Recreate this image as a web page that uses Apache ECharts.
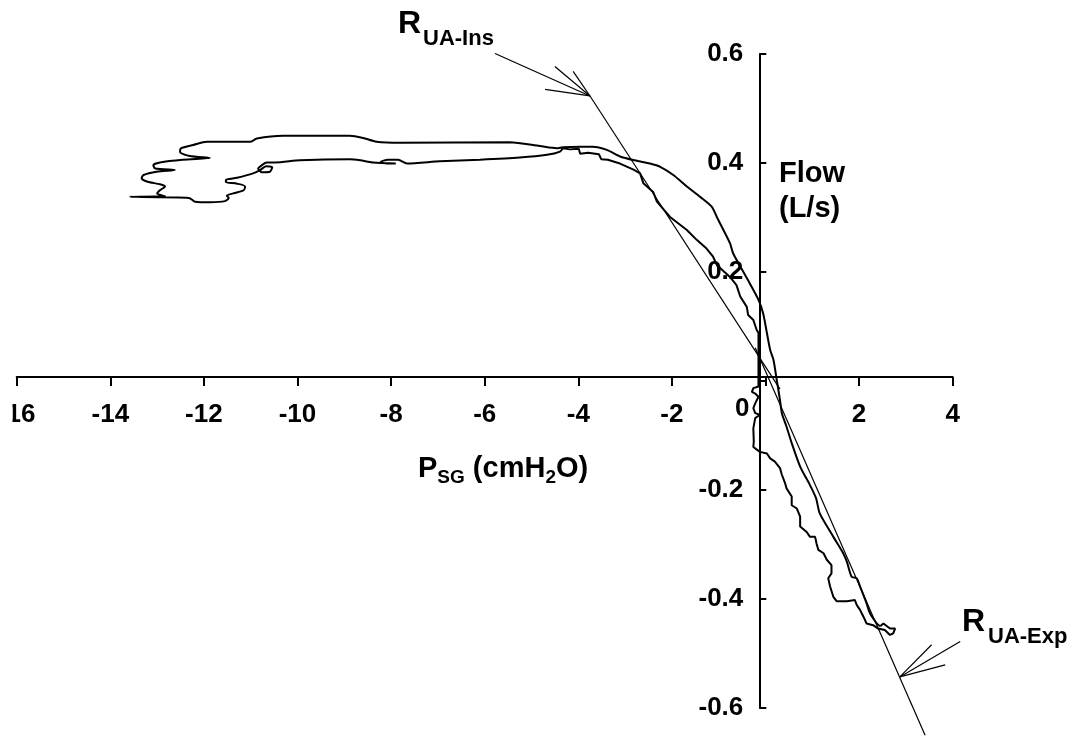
<!DOCTYPE html>
<html>
<head>
<meta charset="utf-8">
<script src="https://cdn.jsdelivr.net/npm/echarts@6/dist/echarts.min.js"></script>
<style>
  html, body { margin: 0; padding: 0; background: #fff; }
  #chart { width: 1075px; height: 736px; }
</style>
</head>
<body>
<div id="chart"></div>
<script>
// pressure (cmH2O) vs flow (L/s), one loop
// inspiratory return limb (jagged), from origin up to the plateau junction
let inspReturn = [
  [-0.15, 0.008], [-0.15, 0.048], [-0.15, 0.088], [-0.19, 0.094], [-0.26, 0.112], [-0.37, 0.121],
  [-0.40, 0.136], [-0.54, 0.155], [-0.62, 0.176], [-0.76, 0.191], [-1.04, 0.213], [-1.12, 0.228],
  [-1.26, 0.243], [-1.47, 0.259], [-1.68, 0.277], [-2.04, 0.301], [-2.32, 0.329], [-2.40, 0.347],
  [-2.61, 0.363], [-2.68, 0.381], [-2.82, 0.388], [-3.11, 0.399], [-3.37, 0.406], [-3.51, 0.407],
  [-3.56, 0.416], [-3.79, 0.419], [-3.96, 0.417], [-3.99, 0.426], [-4.18, 0.425], [-4.33, 0.427]
];
// lower plateau going left
let plateauLow = [
  [-4.39, 0.421], [-4.67, 0.415], [-5.25, 0.410], [-6.10, 0.406], [-6.96, 0.403], [-7.66, 0.399],
  [-7.85, 0.406], [-8.07, 0.406], [-8.22, 0.402], [-8.11, 0.399], [-7.90, 0.399], [-8.39, 0.401],
  [-8.66, 0.405], [-8.88, 0.407], [-9.95, 0.405], [-10.48, 0.401], [-10.66, 0.401]
];
// oscillations at the most negative pressures
let wiggles = [
  [-10.76, 0.396], [-10.84, 0.390], [-10.76, 0.383], [-10.59, 0.384], [-10.54, 0.392], [-10.67, 0.394],
  [-10.80, 0.387], [-10.95, 0.381], [-11.29, 0.373], [-11.53, 0.369], [-11.53, 0.365], [-11.29, 0.362],
  [-11.12, 0.357], [-11.15, 0.350], [-11.34, 0.345], [-11.51, 0.340], [-11.47, 0.336], [-11.55, 0.330],
  [-11.87, 0.328], [-12.19, 0.329], [-12.32, 0.336], [-13.58, 0.338], [-12.83, 0.339], [-13.00, 0.344],
  [-12.94, 0.350], [-12.83, 0.357], [-12.94, 0.361], [-13.22, 0.366], [-13.33, 0.372], [-13.29, 0.378],
  [-13.01, 0.384], [-12.62, 0.387], [-13.04, 0.390], [-13.08, 0.396], [-12.94, 0.401], [-12.45, 0.406],
  [-11.87, 0.409], [-12.30, 0.413], [-12.51, 0.420], [-12.49, 0.427], [-12.23, 0.433]
];
// upper plateau going right
let plateauHigh = [
  [-11.94, 0.439], [-11.44, 0.439], [-11.01, 0.439], [-10.87, 0.445], [-10.31, 0.450], [-8.88, 0.450],
  [-8.60, 0.446], [-8.31, 0.439], [-7.81, 0.437], [-5.46, 0.438], [-4.82, 0.431], [-4.46, 0.427],
  [-4.33, 0.429], [-3.96, 0.430], [-3.69, 0.430]
];
// smooth limb from the plateau down through zero to the expiratory peak
let outerLimb = [
  [-3.39, 0.424], [-3.11, 0.412], [-2.75, 0.404], [-2.47, 0.399], [-2.25, 0.393], [-1.97, 0.378],
  [-1.68, 0.357], [-1.40, 0.338], [-1.15, 0.320], [-1.04, 0.301], [-0.97, 0.289], [-0.76, 0.253],
  [-0.69, 0.234], [-0.40, 0.189], [-0.15, 0.149], [-0.05, 0.124], [0.03, 0.088], [0.10, 0.057],
  [0.17, 0.039], [0.24, 0.002], [0.31, -0.035], [0.35, -0.059], [0.45, -0.084], [0.56, -0.114],
  [0.74, -0.157], [0.95, -0.191], [1.08, -0.215], [1.16, -0.243], [1.45, -0.286], [1.66, -0.316],
  [1.74, -0.332], [1.84, -0.359], [1.95, -0.362], [2.02, -0.377], [2.16, -0.408], [2.23, -0.426],
  [2.38, -0.445], [2.45, -0.450]
];
let expTip = [
  [2.52, -0.445], [2.66, -0.454], [2.77, -0.454], [2.73, -0.463], [2.66, -0.466], [2.55, -0.457], [2.40, -0.454]
];
// jagged expiratory limb back to the origin
let expJagged = [
  [2.30, -0.448], [2.16, -0.445], [2.09, -0.432], [2.02, -0.420], [1.95, -0.411], [1.91, -0.402],
  [1.74, -0.404], [1.52, -0.404], [1.45, -0.396], [1.38, -0.377], [1.34, -0.362], [1.41, -0.353],
  [1.41, -0.338], [1.31, -0.328], [1.24, -0.316], [1.13, -0.310], [1.09, -0.298], [1.06, -0.286],
  [0.95, -0.286], [0.88, -0.277], [0.74, -0.267], [0.74, -0.249], [0.67, -0.234], [0.56, -0.228],
  [0.56, -0.212], [0.45, -0.197], [0.42, -0.188], [0.35, -0.172], [0.31, -0.160], [0.20, -0.148],
  [0.10, -0.142], [0.03, -0.133], [-0.12, -0.130], [-0.26, -0.121], [-0.25, -0.111], [-0.26, -0.087],
  [-0.22, -0.068], [-0.12, -0.062], [-0.22, -0.059], [-0.26, -0.050], [-0.22, -0.041], [-0.15, -0.029],
  [-0.22, -0.023], [-0.29, -0.020], [-0.26, -0.013], [-0.15, -0.010], [-0.15, 0.008]
];

// resistance fits
let insLine = [[-3.75, 0.523], [0.31, -0.015]];
let expLine = [[-0.22, 0.061], [3.41, -0.65]];

// arrow strokes pointing at the fit lines
let insArrow = [
  [[-5.78, 0.601], [-3.75, 0.523]], [[-4.50, 0.577], [-3.75, 0.523]],
  [[-4.11, 0.568], [-3.75, 0.523]], [[-4.71, 0.535], [-3.75, 0.523]]
];
let expArrow = [
  [[4.16, -0.478], [2.87, -0.543]], [[3.55, -0.484], [2.87, -0.543]], [[3.84, -0.521], [2.87, -0.543]]
];

let xMin = -16, xMax = 4, xStep = 2;
let yMin = -0.6, yMax = 0.6, yStep = 0.2;

// jagged parts drawn straight, the plateau/smooth limb lightly smoothed
let partJagged1 = inspReturn;
let partSmooth = [inspReturn[inspReturn.length - 1]].concat(plateauLow, wiggles, plateauHigh, outerLimb);
let partJagged2 = [outerLimb[outerLimb.length - 1]].concat(expTip, expJagged);

const FONT = '"Liberation Sans", Arial, sans-serif';
const txt = (x, y, text, size) => ({
  type: 'text', x: x, y: y,
  style: { text: text, font: 'bold ' + size + 'px ' + FONT, fill: '#000', textVerticalAlign: 'middle' }
});
const curve = (data, smooth) => ({
  type: 'line', data: data, showSymbol: false, clip: false, smooth: smooth,
  lineStyle: { color: '#000', width: 2 }
});
const fit = data => ({
  type: 'line', data: data, showSymbol: false, clip: false, lineStyle: { color: '#000', width: 1.2 }
});

let dom = echarts.init(document.getElementById('chart'));
dom.setOption({
  animation: false,
  grid: { left: 16.7, right: 122.3, top: 54, bottom: 28, outerBoundsMode: 'none', containLabel: false },
  // axes cross slightly off zero, as in the original
  xAxis: {
    type: 'value', min: xMin, max: xMax, interval: xStep,
    position: 'bottom', offset: -331,
    axisLine: { onZero: false, lineStyle: { color: '#000', width: 2 } },
    axisTick: { length: 9, lineStyle: { color: '#000', width: 2 } },
    axisLabel: {
      margin: 25, color: '#000', fontSize: 26, fontWeight: 'bold', fontFamily: FONT,
      formatter: v => (v === 0 ? '' : String(v))
    },
    splitLine: { show: false }
  },
  yAxis: {
    type: 'value', min: yMin, max: yMax, interval: yStep,
    position: 'left', offset: -742.6,
    axisLine: { onZero: false, lineStyle: { color: '#000', width: 2 } },
    axisTick: { inside: true, length: 7, lineStyle: { color: '#000', width: 2 } },
    axisLabel: {
      margin: 16, color: '#000', fontSize: 26, fontWeight: 'bold', fontFamily: FONT,
      formatter: v => (Math.abs(v) < 1e-9 ? '' : v.toFixed(1))
    },
    splitLine: { show: false }
  },
  series: [
    curve(partJagged1, false),
    curve(partSmooth, 0.25),
    curve(partJagged2, false),
    fit(insLine),
    fit(expLine),
    {
      type: 'lines', coordinateSystem: 'cartesian2d', clip: false,
      lineStyle: { color: '#000', width: 1.2, opacity: 1 },
      data: insArrow.concat(expArrow).map(c => ({ coords: c }))
    }
  ],
  graphic: [
    // "-16" is cut at the left edge like the original crop
    { type: 'rect', shape: { x: 0, y: 395, width: 12.5, height: 40 }, style: { fill: '#fff' }, z: 100 },
    txt(735, 409, '0', 26),
    txt(779, 174, 'Flow', 29),
    txt(779, 209, '(L/s)', 29),
    txt(418, 469, 'P', 29),
    txt(437.3, 478, 'SG', 19),
    txt(464.8, 469, ' (cmH', 29),
    txt(545.4, 478, '2', 19),
    txt(556, 469, 'O)', 29),
    txt(398, 24, 'R', 32),
    txt(423, 39, 'UA-Ins', 22),
    txt(962, 622, 'R', 32),
    txt(988, 637, 'UA-Exp', 22)
  ]
});
</script>
</body>
</html>
